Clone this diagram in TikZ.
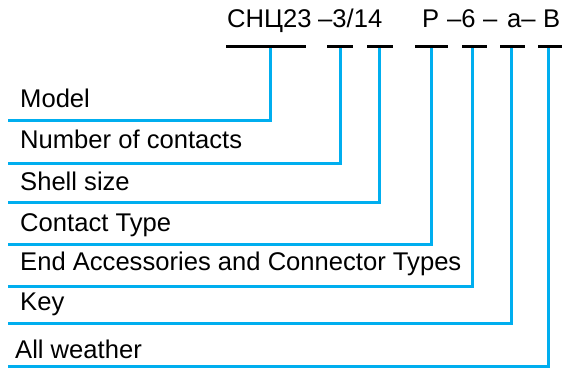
\documentclass[tikz,border=0pt]{standalone}
\usepackage{fontspec}
\setmainfont{Liberation Sans}
\usetikzlibrary{positioning}
\definecolor{leadblue}{RGB}{0,174,239}

\begin{document}
\begin{tikzpicture}[
    x=1pt, y=-1pt,
    % --- STYLES ---
    code/.style={
            anchor=base west,
            inner sep=0pt,
            font=\fontsize{25.6}{30}\selectfont
        },
    lbl/.style={
            anchor=base west,
            inner sep=0pt,
            font=\fontsize{25.6}{30}\selectfont
        },
    bar/.style={
            draw=black,
            line width=3pt
        },
    lead/.style={
            draw=leadblue,
            line width=3pt,
            line join=miter
        }
    ]
    \useasboundingbox (0,0) rectangle (563,369);

    % --- DESIGNATION CODE ---
    \node[code] (cmodel) at (227,28) {СНЦ23};
    \node[code] (csize) at (318,28) {–3/14};
    \node[code] (ctype) at (422,28) {P};
    \node[code] (cend) at (447,28) {–6};
    \node[code] (cdash) at (483,28) {–};
    \node[code] (ckey) at (507,28) {a–};
    \node[code] (cweather) at (543,28) {B};

    % --- LABELS ---
    \node[lbl] (model) at (20,108) {Model};
    \node[lbl] (contacts) at (20,148) {Number of contacts};
    \node[lbl] (shell) at (20,190) {Shell size};
    \node[lbl] (type) at (20,231) {Contact Type};
    \node[lbl] (accessories) at (20,270) {End Accessories and Connector Types};
    \node[lbl] (key) at (20,310) {Key};
    \node[lbl] (weather) at (15,358) {All weather};

    % --- LEADER POINTS ---
    \coordinate (t1) at (270,47);
    \coordinate (t2) at (340,47);
    \coordinate (t3) at (379,47);
    \coordinate (t4) at (431,47);
    \coordinate (t5) at (472,47);
    \coordinate (t6) at (511,47);
    \coordinate (t7) at (548,47);

    % --- LEADERS ---
    \draw[lead] (t1) |- (8,121);
    \draw[lead] (t2) |- (8,163);
    \draw[lead] (t3) |- (8,202);
    \draw[lead] (t4) |- (8,244);
    \draw[lead] (t5) |- (8,286);
    \draw[lead] (t6) |- (8,323);
    \draw[lead] (t7) |- (8,366);

    % --- BARS under the code ---
    \draw[bar] (226,47) -- (306,47);
    \draw[bar] (327,47) -- (353,47);
    \draw[bar] (367,47) -- (393,47);
    \draw[bar] (415,47) -- (448,47);
    \draw[bar] (462,47) -- (487,47);
    \draw[bar] (500,47) -- (525,47);
    \draw[bar] (538,47) -- (562,47);

\end{tikzpicture}
\end{document}
